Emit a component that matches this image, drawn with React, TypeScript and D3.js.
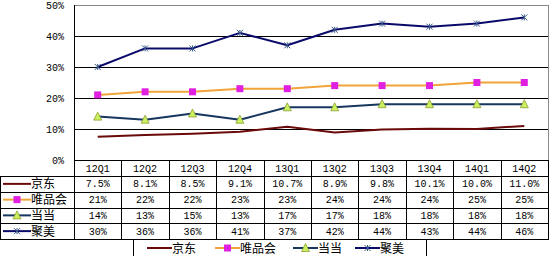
import React from "react";
import * as d3 from "d3";

const categories = ["12Q1", "12Q2", "12Q3", "12Q4", "13Q1", "13Q2", "13Q3", "13Q4", "14Q1", "14Q2"];
const jd = [7.5, 8.1, 8.5, 9.1, 10.7, 8.9, 9.8, 10.1, 10.0, 11.0];
const vip = [21, 22, 22, 23, 23, 24, 24, 24, 25, 25];
const dangdang = [14, 13, 15, 13, 17, 17, 18, 18, 18, 18];
const jumei = [30, 36, 36, 41, 37, 42, 44, 43, 44, 46];
const jdLabels = ["7.5%", "8.1%", "8.5%", "9.1%", "10.7%", "8.9%", "9.8%", "10.1%", "10.0%", "11.0%"];
const yTicks = [0, 10, 20, 30, 40, 50];

const series = [
  { name: "京东", values: jd, labels: jdLabels, color: "#6b0a0a", marker: "none" },
  { name: "唯品会", values: vip, labels: vip.map((v) => v + "%"), color: "#f0a43a", marker: "square" },
  { name: "当当", values: dangdang, labels: dangdang.map((v) => v + "%"), color: "#17375e", marker: "triangle" },
  { name: "聚美", values: jumei, labels: jumei.map((v) => v + "%"), color: "#0a0a6b", marker: "x" },
];

const W = 551, H = 256;
const L = 74, R = 548, T = 5, B = 160;
const rowY = [176, 191.75, 207.5, 223.25, 239];
const mono = "'Liberation Mono', 'DejaVu Sans Mono', monospace";
const cjk = "'Noto Sans CJK SC', sans-serif";

function Marker({ type, x, y }: { type: string; x: number; y: number }) {
  if (type === "square")
    return <rect x={x - 3.5} y={y - 3.5} width={7} height={7} fill="#e020e0" />;
  if (type === "triangle")
    return (
      <path
        d={`M${x},${y - 4.5}L${x + 4},${y + 3.5}L${x - 4},${y + 3.5}Z`}
        fill="#ccf060"
        stroke="#8aa030"
        strokeWidth={0.8}
      />
    );
  if (type === "x")
    return (
      <g stroke="#3a5a8a" strokeWidth={1}>
        <line x1={x - 3} y1={y - 3} x2={x + 3} y2={y + 3} />
        <line x1={x - 3} y1={y + 3} x2={x + 3} y2={y - 3} />
        <line x1={x} y1={y - 3} x2={x} y2={y + 3} />
      </g>
    );
  return null;
}

function LegendKey({ s, x, y, len }: { s: any; x: number; y: number; len: number }) {
  return (
    <g>
      <line x1={x} y1={y} x2={x + len} y2={y} stroke={s.color} strokeWidth={2} />
      <Marker type={s.marker} x={x + len / 2} y={y} />
    </g>
  );
}

export default function App() {
  const x = d3.scaleBand<string>().domain(categories).range([L, R]);
  const y = d3.scaleLinear().domain([0, 50]).range([B, T]);
  const cx = (c: string) => (x(c) as number) + x.bandwidth() / 2;
  const line = d3
    .line<number>()
    .x((_, i) => cx(categories[i]))
    .y((d) => y(d));

  const legendItems = [
    { lx: 147, tx: 172 },
    { lx: 215, tx: 240 },
    { lx: 293, tx: 318 },
    { lx: 355, tx: 380 },
  ];

  return (
    <svg
      width={W}
      height={H}
      style={{ position: "absolute", left: 0, top: 0, background: "#fff" }}
    >
      <rect x={0} y={0} width={W} height={H} fill="#fff" />
      {yTicks.slice(1, -1).map((t) => (
        <line key={t} x1={L} x2={R} y1={Math.round(y(t)) + 0.5} y2={Math.round(y(t)) + 0.5} stroke="#000" />
      ))}
      <line x1={L} x2={R} y1={T + 0.5} y2={T + 0.5} stroke="#888" />
      <line x1={R + 0.5} x2={R + 0.5} y1={T} y2={B} stroke="#888" />
      <line x1={L + 0.5} x2={L + 0.5} y1={T} y2={B} stroke="#000" />
      {yTicks.map((t) => (
        <text key={t} x={64} y={y(t) + 4} textAnchor="end" fontFamily={mono} fontSize={10} fill="#000">
          {t}%
        </text>
      ))}
      {series.map((s) => (
        <path key={s.name} d={line(s.values) || ""} fill="none" stroke={s.color} strokeWidth={2} strokeLinejoin="round" />
      ))}
      {series.map((s) =>
        s.values.map((v, i) => <Marker key={s.name + i} type={s.marker} x={cx(categories[i])} y={y(v)} />)
      )}
      <line x1={L} x2={R + 1} y1={B + 0.5} y2={B + 0.5} stroke="#000" />
      {rowY.map((ry) => (
        <line key={ry} x1={0} x2={R + 1} y1={Math.round(ry) + 0.5} y2={Math.round(ry) + 0.5} stroke="#000" />
      ))}
      <line x1={0.5} x2={0.5} y1={rowY[0]} y2={rowY[4] + 1} stroke="#000" />
      {categories.map((c) => (
        <line
          key={c}
          x1={Math.round(x(c) as number) + 0.5}
          x2={Math.round(x(c) as number) + 0.5}
          y1={B}
          y2={rowY[4] + 1}
          stroke="#000"
        />
      ))}
      <line x1={R + 0.5} x2={R + 0.5} y1={B} y2={rowY[4] + 1} stroke="#000" />
      {categories.map((c) => (
        <text key={c} x={cx(c)} y={172} textAnchor="middle" fontFamily={mono} fontSize={10} fill="#000">
          {c}
        </text>
      ))}
      {series.map((s, r) => {
        const my = (rowY[r] + rowY[r + 1]) / 2;
        return (
          <g key={s.name}>
            <LegendKey s={s} x={3} y={my} len={28} />
            <text x={31} y={my + 4.5} fontFamily={cjk} fontSize={12} fill="#000">
              {s.name}
            </text>
            {s.labels.map((lab, i) => (
              <text key={i} x={cx(categories[i])} y={my + 3.5} textAnchor="middle" fontFamily={mono} fontSize={10} fill="#000">
                {lab}
              </text>
            ))}
          </g>
        );
      })}
      <rect x={133.5} y={239.5} width={293} height={22} fill="#fff" stroke="#000" />
      {series.map((s, i) => (
        <g key={s.name}>
          <LegendKey s={s} x={legendItems[i].lx} y={248} len={25} />
          <text x={legendItems[i].tx} y={253} fontFamily={cjk} fontSize={12} fill="#000">
            {s.name}
          </text>
        </g>
      ))}
    </svg>
  );
}
